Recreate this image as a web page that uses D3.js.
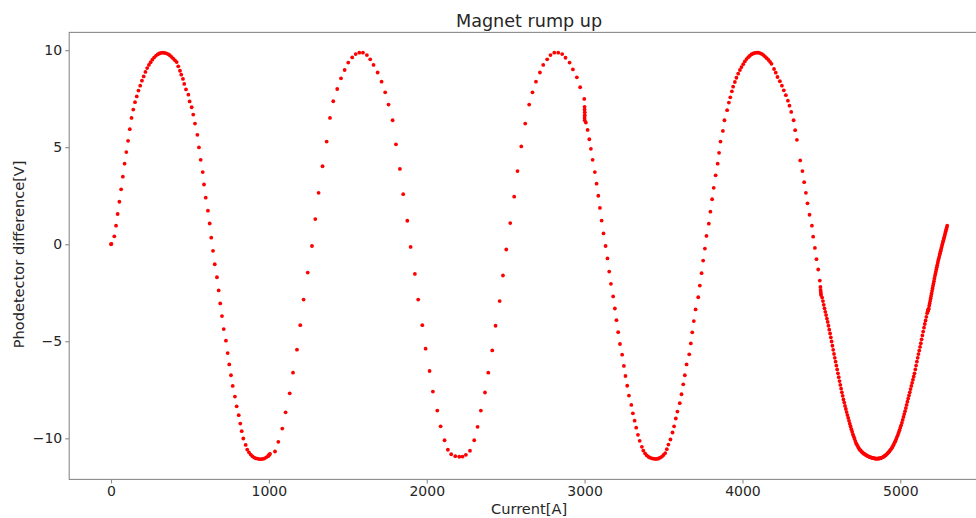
<!DOCTYPE html>
<html>
<head>
<meta charset="utf-8">
<script src="https://cdn.jsdelivr.net/npm/d3@7"></script>
<style>
  html, body { margin: 0; padding: 0; background: #ffffff; }
  svg { display: block; }
  text { font-family: "DejaVu Sans", sans-serif; fill: #262626; }
</style>
</head>
<body>
<div id="chart"></div>
<script>
// ---------- data (Current [A], Phodetector difference [V]) ----------
const run1Current = [0,3,21,32,42,53,64,75,86,97,108,119,130,141,152,163,174,185,196,207,218,229,240,251,262,273,284,295,306,317,328,339,350,361,372,383,394,405,416,426,437,445,456,464,475,490,498,511,521,532,547,557,568,581,589,600,614,625,635,646,657,671,682,692,703,714,728,739,749,760,771,785,796,809,819,828,838,853,863,874,885,896,907,918,929,940,951,962,973,984,995,998,1001,1004,1007];
const run1Volt = [0,0.02,0.41,0.96,1.56,2.19,2.83,3.48,4.15,4.75,5.33,5.93,6.51,6.94,7.32,7.62,7.92,8.17,8.43,8.65,8.88,9.08,9.24,9.38,9.51,9.62,9.71,9.78,9.83,9.86,9.87,9.86,9.84,9.80,9.74,9.66,9.57,9.48,9.39,9.17,8.94,8.74,8.52,8.26,7.98,7.71,7.36,7.06,6.68,6.22,5.64,4.99,4.35,3.72,3.08,2.40,1.73,1.07,0.34,-0.34,-1.03,-1.70,-2.38,-3.05,-3.70,-4.37,-4.97,-5.61,-6.19,-6.75,-7.30,-7.85,-8.35,-8.81,-9.24,-9.63,-10.01,-10.34,-10.58,-10.72,-10.84,-10.93,-10.99,-11.03,-11.05,-11.07,-11.07,-11.06,-11.03,-10.98,-10.92,-10.89,-10.86,-10.83,-10.80];

const run2Current = [1039,1060,1085,1106,1132,1153,1178,1199,1220,1246,1273,1294,1315,1340,1366,1387,1408,1433,1457,1480,1503,1528,1550,1573,1596,1621,1642,1663,1689,1714,1737,1758,1784,1805,1830,1851,1877,1898,1925,1946,1972,1993,2018,2039,2067,2088,2113,2134,2155,2181,2206,2227,2248,2274,2301,2322,2343,2369,2390,2415,2436,2462,2483,2504,2529,2554,2575,2599,2624,2649,2670,2692,2717,2738,2763,2784,2808,2833,2858,2879,2905,2926,2951,2972,2998];
const run2Volt = [-10.68,-10.18,-9.50,-8.66,-7.68,-6.62,-5.43,-4.17,-2.85,-1.46,-0.09,1.30,2.65,4.02,5.29,6.51,7.37,8.00,8.55,8.98,9.36,9.63,9.80,9.87,9.87,9.75,9.53,9.24,8.85,8.38,7.83,7.20,6.39,5.15,3.88,2.58,1.21,-0.14,-1.53,-2.85,-4.17,-5.38,-6.53,-7.59,-8.57,-9.38,-10.10,-10.59,-10.82,-10.92,-10.95,-10.94,-10.85,-10.64,-10.10,-9.41,-8.57,-7.64,-6.62,-5.47,-4.20,-2.93,-1.61,-0.27,1.09,2.45,3.77,5.04,6.22,7.20,7.83,8.38,8.85,9.24,9.53,9.75,9.87,9.87,9.80,9.61,9.36,9.01,8.60,8.09,7.49];

const run3Current = [3000,3000,3001,3001,3000,3001,3008,3019,3030,3040,3051,3065,3076,3087,3097,3108,3120,3133,3145,3156,3167,3181,3192,3202,3213,3224,3238,3249,3259,3270,3281,3296,3306,3317,3327,3338,3349,3363,3372,3383,3394,3404,3415,3426,3436,3447,3458,3468,3479,3490,3500,3511,3521,3531,3544,3557,3567,3578,3588,3603,3614,3625,3635,3646,3663,3673,3682,3692,3703,3720,3730,3741,3751,3762,3772,3787,3797,3808,3818,3830,3843,3852,3861,3876,3886,3903,3914,3923,3933,3941,3952,3962,3973,3984,3994,4005,4015,4026,4037,4047,4058,4069,4079,4090,4101,4111,4122,4133,4143,4154,4165,4175,4184,4200,4211,4222,4237,4250,4262,4275,4288,4298,4309,4324,4334,4345,4366,4380,4391,4402,4412,4425,4440,4448,4459,4469,4480,4490,4494,4495,4496,4497,4498];
const run3Volt = [7.08,6.94,6.80,6.65,6.52,6.39,6.27,5.89,5.41,4.92,4.35,3.72,3.12,2.50,1.87,1.22,0.56,-0.09,-0.73,-1.41,-2.04,-2.69,-3.31,-3.91,-4.53,-5.14,-5.69,-6.27,-6.79,-7.29,-7.80,-8.28,-8.71,-9.09,-9.45,-9.82,-10.13,-10.44,-10.63,-10.78,-10.88,-10.95,-11.00,-11.03,-11.05,-11.06,-11.06,-11.04,-11.00,-10.94,-10.86,-10.76,-10.56,-10.32,-10.06,-9.70,-9.38,-8.98,-8.62,-8.19,-7.73,-7.22,-6.75,-6.19,-5.67,-5.11,-4.54,-3.96,-3.36,-2.73,-2.13,-1.49,-0.84,-0.22,0.43,1.06,1.68,2.32,2.91,3.55,4.15,4.71,5.29,5.84,6.39,6.91,7.30,7.57,7.88,8.12,8.36,8.58,8.79,8.98,9.13,9.28,9.42,9.54,9.64,9.72,9.79,9.83,9.86,9.87,9.87,9.85,9.81,9.75,9.67,9.59,9.50,9.40,9.30,9.03,8.84,8.62,8.40,8.17,7.93,7.68,7.40,7.14,6.82,6.39,5.88,5.38,4.32,3.77,3.20,2.65,2.11,1.52,0.96,0.39,-0.19,-0.77,-1.30,-1.87,-2.20,-2.35,-2.45,-2.55,-2.62];

const run4DownCurrent = [4505,4510,4515,4520,4525,4530,4535,4540,4545,4550,4555,4560,4565,4570,4575,4580,4585,4590,4595,4600,4605,4610,4615,4620,4625,4630,4635,4640,4645,4650,4655,4660,4665,4670,4675,4680,4685,4690,4695,4700,4705,4710,4715,4720,4725,4730,4735,4740,4745,4750,4755,4760,4765,4770,4775,4780,4785,4790,4795,4800,4805,4810,4815,4820,4825,4830,4835,4840,4845];
const run4DownVolt = [-2.75,-2.93,-3.12,-3.30,-3.48,-3.65,-3.83,-4.00,-4.20,-4.40,-4.60,-4.80,-5.01,-5.23,-5.44,-5.65,-5.85,-6.05,-6.25,-6.45,-6.65,-6.85,-7.05,-7.25,-7.44,-7.63,-7.81,-8.00,-8.16,-8.33,-8.49,-8.65,-8.80,-8.95,-9.10,-9.25,-9.39,-9.53,-9.66,-9.80,-9.91,-10.02,-10.14,-10.25,-10.33,-10.40,-10.48,-10.55,-10.60,-10.64,-10.69,-10.73,-10.76,-10.79,-10.82,-10.85,-10.87,-10.90,-10.92,-10.94,-10.96,-10.97,-10.99,-11.00,-11.01,-11.02,-11.03,-11.04,-11.05];

const run4UpCurrent = [4850,4855,4860,4865,4870,4875,4880,4885,4890,4895,4900,4905,4910,4915,4920,4925,4930,4935,4940,4945,4950,4955,4960,4965,4970,4975,4980,4985,4990,4995,5000,5005,5010,5015,5020,5025,5030,5035,5040,5045,5050,5055,5060,5065,5070,5075,5080,5085,5090,5095,5100,5105,5110,5115,5120,5125,5130,5135,5140,5145,5150,5155,5160,5165,5170,5174,5176,5177,5178,5180];
const run4UpVolt = [-11.05,-11.05,-11.04,-11.04,-11.03,-11.02,-11.00,-10.99,-10.97,-10.94,-10.91,-10.88,-10.85,-10.81,-10.77,-10.72,-10.68,-10.62,-10.57,-10.51,-10.45,-10.37,-10.29,-10.20,-10.12,-10.02,-9.91,-9.81,-9.70,-9.58,-9.45,-9.33,-9.20,-9.05,-8.90,-8.75,-8.60,-8.44,-8.28,-8.11,-7.95,-7.79,-7.63,-7.46,-7.30,-7.14,-6.98,-6.81,-6.65,-6.45,-6.25,-6.05,-5.85,-5.66,-5.48,-5.29,-5.10,-4.90,-4.70,-4.50,-4.30,-4.11,-3.93,-3.74,-3.55,-3.45,-3.42,-3.38,-3.35,-3.32];

const run5Current = [5183,5186,5189,5192,5195,5198,5201,5204,5207,5210,5213,5216,5219,5222,5225,5228,5231,5234,5237,5240,5243,5246,5249,5252,5255,5258,5261,5264,5267,5270,5273,5276,5279,5282,5285,5288,5291,5294,5297];
const run5Volt = [-3.17,-3.05,-2.92,-2.79,-2.66,-2.54,-2.41,-2.28,-2.15,-2.03,-1.90,-1.77,-1.64,-1.53,-1.42,-1.30,-1.19,-1.08,-0.96,-0.85,-0.75,-0.66,-0.56,-0.46,-0.36,-0.27,-0.17,-0.07,0.02,0.11,0.20,0.30,0.39,0.48,0.58,0.67,0.77,0.86,0.96];

const xTicks = [0, 1000, 2000, 3000, 4000, 5000];
const yTicks = [-10, -5, 0, 5, 10];
const titleText = "Magnet rump up";
const xLabel = "Current[A]";
const yLabel = "Phodetector difference[V]";

// ---------- build points ----------
function pairs(xs, ys) {
  const n = Math.min(xs.length, ys.length);
  const out = [];
  for (let i = 0; i < n; i++) out.push({ x: xs[i], y: ys[i] });
  return out;
}
const points = [].concat(
  pairs(run1Current, run1Volt),
  pairs(run2Current, run2Volt),
  pairs(run3Current, run3Volt),
  pairs(run4DownCurrent, run4DownVolt),
  pairs(run4UpCurrent, run4UpVolt),
  pairs(run5Current, run5Volt)
);

// ---------- layout ----------
const W = 976, H = 518;
const plot = { left: 69.2, right: 989, top: 32.4, bottom: 479.4 };

const xExt = d3.extent(points, d => d.x);
const yExt = d3.extent(points, d => d.y);
const xPad = (xExt[1] - xExt[0]) * 0.05;
const yPad = (yExt[1] - yExt[0]) * 0.05;

const x = d3.scaleLinear().domain([xExt[0] - xPad, xExt[1] + xPad]).range([plot.left, plot.right]);
const y = d3.scaleLinear().domain([yExt[0] - yPad, yExt[1] + yPad]).range([plot.bottom, plot.top]);

const svg = d3.select("#chart").append("svg")
  .attr("width", W).attr("height", H)
  .attr("viewBox", `0 0 ${W} ${H}`);

svg.append("rect").attr("width", W).attr("height", H).attr("fill", "#ffffff");

// points
svg.append("g").selectAll("circle")
  .data(points)
  .join("circle")
  .attr("cx", d => x(d.x))
  .attr("cy", d => y(d.y))
  .attr("r", 1.9)
  .attr("fill", "#ff0000");

// frame
const frameColor = "#8a8a8a";
svg.append("rect")
  .attr("x", plot.left).attr("y", plot.top)
  .attr("width", plot.right - plot.left).attr("height", plot.bottom - plot.top)
  .attr("fill", "none").attr("stroke", frameColor).attr("stroke-width", 1.1);

// axes
const xAxis = d3.axisBottom(x).tickValues(xTicks).tickFormat(d3.format("d")).tickSize(4).tickPadding(3);
const yAxis = d3.axisLeft(y).tickValues(yTicks).tickFormat(d3.format("d")).tickSize(4).tickPadding(3);

const gx = svg.append("g").attr("transform", `translate(0,${plot.bottom})`).call(xAxis);
const gy = svg.append("g").attr("transform", `translate(${plot.left},0)`).call(yAxis);

[gx, gy].forEach(g => {
  g.select(".domain").remove();
  g.selectAll(".tick line").attr("stroke", frameColor).attr("stroke-width", 1.1);
  g.selectAll(".tick text")
    .attr("fill", "#262626")
    .style("font-family", "'DejaVu Sans', sans-serif")
    .style("font-size", "14px");
});

// title and labels
svg.append("text")
  .attr("x", (plot.left + plot.right) / 2).attr("y", 26.5)
  .attr("text-anchor", "middle")
  .style("font-size", "17.6px")
  .text(titleText);

svg.append("text")
  .attr("x", (plot.left + plot.right) / 2).attr("y", 514)
  .attr("text-anchor", "middle")
  .style("font-size", "14.6px")
  .text(xLabel);

svg.append("text")
  .attr("transform", `translate(24,${(plot.top + plot.bottom) / 2 - 1.5}) rotate(-90)`)
  .attr("text-anchor", "middle")
  .style("font-size", "14.6px")
  .text(yLabel);
</script>
</body>
</html>
